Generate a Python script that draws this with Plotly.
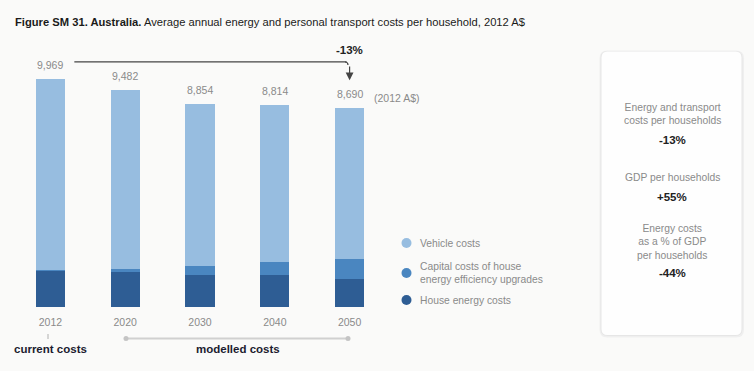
import plotly.graph_objects as go

# ---------------- data ----------------
years = ["2012", "2020", "2030", "2040", "2050"]
totals = [9969, 9482, 8854, 8814, 8690]
house_energy = [1590, 1515, 1370, 1385, 1225]
capital_costs = [30, 145, 394, 551, 845]
vehicle_costs = [t - h - c for t, h, c in zip(totals, house_energy, capital_costs)]
total_labels = ["9,969", "9,482", "8,854", "8,814", "8,690"]

series_names = ["Vehicle costs",
                "Capital costs of house<br>energy efficiency upgrades",
                "House energy costs"]
series_keys = ["vehicle", "capital", "house"]
colors = {"vehicle": "#97bde0", "capital": "#4a86c0", "house": "#2e5d94"}

panel_items = [
    ("Energy and transport<br>costs per households", "-13%"),
    ("GDP per households", "+55%"),
    ("Energy costs<br>as a % of GDP<br>per households", "-44%"),
]
change_label = "-13%"

# ---------------- helpers ----------------
W, H = 754, 371
def px(x):
    return x / W
def py(y):
    return 1 - y / H

FONT = "Liberation Sans, Arial, sans-serif"
GREY = "#8a8a8a"
DARK = "#222222"

def note(x, y, text, size, color, **kw):
    fig.add_annotation(x=px(x), y=py(y), xref="paper", yref="paper", text=text,
                       showarrow=False, xanchor=kw.pop("xanchor", "center"),
                       yanchor=kw.pop("yanchor", "middle"),
                       font=dict(size=size, color=color, family=FONT), **kw)

fig = go.Figure()

bar_w = 0.39
fig.add_bar(x=years, y=house_energy, marker_color=colors["house"], width=bar_w,
            showlegend=False, marker_line_width=0, name="House energy costs")
fig.add_bar(x=years, y=capital_costs, marker_color=colors["capital"], width=bar_w,
            showlegend=False, marker_line_width=0, name="Capital costs")
fig.add_bar(x=years, y=vehicle_costs, marker_color=colors["vehicle"], width=bar_w,
            showlegend=False, marker_line_width=0, name="Vehicle costs")

# total labels
for i, (t, lab) in enumerate(zip(totals, total_labels)):
    fig.add_annotation(x=i, y=t, xref="x", yref="y", text=lab, showarrow=False,
                       xanchor="center", yanchor="bottom", yshift=6,
                       font=dict(size=10.5, color=GREY, family=FONT))

note(397, 98, "(2012 A$)", 10.5, GREY)

# change arrow
arrow_level = 10713
fig.add_shape(type="line", xref="x", yref="y", x0=0.32, x1=3.96,
              y0=arrow_level, y1=arrow_level, line=dict(color="#444444", width=1.2))
fig.add_shape(type="path", xref="paper", yref="paper",
              path=f"M {px(345)},{py(62)} Q {px(348)},{py(62)} {px(348)},{py(65)}",
              line=dict(color="#444444", width=1.2))
fig.add_annotation(x=4, y=totals[0] - 60, ax=4, ay=arrow_level - 130, xref="x", yref="y",
                   axref="x", ayref="y", text="", showarrow=True, arrowhead=2,
                   arrowsize=1.3, arrowwidth=1.2, arrowcolor="#444444")
fig.add_annotation(x=4, y=arrow_level, xref="x", yref="y", text=f"<b>{change_label}</b>",
                   showarrow=False, xanchor="center", yanchor="bottom", yshift=4,
                   font=dict(size=11.5, color=DARK, family=FONT))

# title
note(13, 22, "<b>Figure SM 31. Australia.</b> Average annual energy and personal transport costs per household, 2012 A$",
     11.2, "#1a1a1a", xanchor="left")

# legend (circles + text)
legend_y = [243, 273, 300]
for name, key, ly in zip(series_names, series_keys, legend_y):
    fig.add_shape(type="circle", xref="paper", yref="paper", x0=px(401.5), x1=px(411.5),
                  y0=py(ly + 5), y1=py(ly - 5), fillcolor=colors[key], line=dict(width=0))
    note(418, ly, name, 10.3, GREY, xanchor="left", align="left")

# current / modelled costs
fig.add_shape(type="line", xref="paper", yref="paper", x0=px(48), x1=px(48),
              y0=py(334), y1=py(339), line=dict(color="#b0b0b0", width=1))
note(50, 348.5, "<b>current costs</b>", 11.5, "#1c1c30")
fig.add_shape(type="line", xref="paper", yref="paper", x0=px(126), x1=px(348),
              y0=py(338.5), y1=py(338.5), line=dict(color="#d0d0d0", width=2))
for xx in (126, 348):
    fig.add_shape(type="circle", xref="paper", yref="paper", x0=px(xx - 2.5), x1=px(xx + 2.5),
                  y0=py(341), y1=py(336), fillcolor="#c4c4c4", line=dict(width=0))
note(238, 348.5, "<b>modelled costs</b>", 11.5, "#1c1c30")

# right panel with rounded corners and shadow
def rounded(x0, y0, x1, y1, r):
    return (f"M {px(x0 + r)},{py(y0)} L {px(x1 - r)},{py(y0)} Q {px(x1)},{py(y0)} {px(x1)},{py(y0 + r)} "
            f"L {px(x1)},{py(y1 - r)} Q {px(x1)},{py(y1)} {px(x1 - r)},{py(y1)} "
            f"L {px(x0 + r)},{py(y1)} Q {px(x0)},{py(y1)} {px(x0)},{py(y1 - r)} "
            f"L {px(x0)},{py(y0 + r)} Q {px(x0)},{py(y0)} {px(x0 + r)},{py(y0)} Z")

fig.add_shape(type="path", xref="paper", yref="paper", path=rounded(599.5, 50.5, 744, 337.5, 8),
              fillcolor="#efefef", line=dict(width=0), layer="below")
fig.add_shape(type="path", xref="paper", yref="paper", path=rounded(600.5, 51, 742.5, 336, 7),
              fillcolor="#e6e6e6", line=dict(width=0), layer="below")
fig.add_shape(type="path", xref="paper", yref="paper", path=rounded(601.5, 51.5, 741.5, 335, 6),
              fillcolor="#fefefe", line=dict(width=0), layer="below")

label_pos = [(114, 139.5), (177.5, 197), (241.5, 272.5)]
for (lab, val), (ly, vy) in zip(panel_items, label_pos):
    note(672, ly, lab, 10.3, GREY)
    note(672, vy, f"<b>{val}</b>", 11.5, DARK)

fig.update_layout(
    width=W, height=H, barmode="stack", bargap=0,
    paper_bgcolor="#fafaf9", plot_bgcolor="rgba(0,0,0,0)",
    margin=dict(l=0, r=0, t=0, b=0),
    font=dict(family=FONT),
    showlegend=False,
    xaxis=dict(domain=[px(13), px(387)], range=[-0.5, 4.5], type="category",
               showgrid=False, zeroline=False, showline=False, ticks="",
               tickfont=dict(size=10.5, color=GREY, family=FONT),
               ticklabelstandoff=7, fixedrange=True),
    yaxis=dict(domain=[py(307), py(55.4)], range=[0, 11000], visible=False, fixedrange=True),
)

fig.write_html("out.html", config={"displayModeBar": False},
               post_script="document.body.style.margin='0px';")
